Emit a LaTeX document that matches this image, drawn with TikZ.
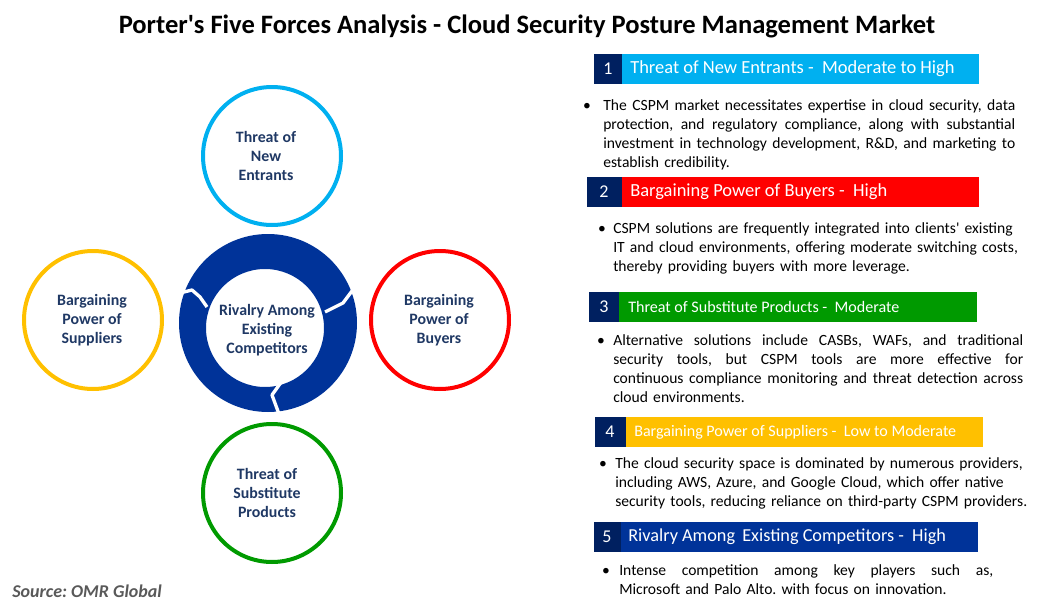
\documentclass[tikz,border=0pt]{standalone}
\usepackage{fontspec}
\setmainfont{Carlito}
\frenchspacing
\definecolor{cyanforce}{HTML}{00B0F0}
\definecolor{redforce}{HTML}{FF0000}
\definecolor{greenforce}{HTML}{009A00}
\definecolor{goldforce}{HTML}{FFC000}
\definecolor{blueforce}{HTML}{003399}
\definecolor{numnavy}{HTML}{002060}
\definecolor{labelnavy}{HTML}{1F3864}
\definecolor{sourcegray}{HTML}{595959}
\newcommand{\fullline}[2]{\makebox[#1][s]{\spaceskip=0pt\xspaceskip=0pt #2}}
\tikzset{
  force/.style={circle, draw=#1, line width=3pt, minimum size=103.5pt, inner sep=0pt},
  forcetext/.style={align=center, text=labelnavy, font=\fontsize{11.9}{14.25}\selectfont\bfseries},
  numtext/.style={text=white, inner sep=0pt, font=\fontsize{13.5}{15}\selectfont},
  bartext/.style={text=white, anchor=west, inner sep=0pt},
  bulletmark/.style={anchor=base, inner sep=0pt, font=\fontsize{11.7}{14.25}\selectfont},
  bullettext/.style={anchor=base west, inner sep=0pt, text width=340pt, align=left,
    font=\fontsize{11.7}{14.25}\selectfont},
}
\begin{document}
\begin{tikzpicture}[x=0.75pt, y=-0.75pt]
    \useasboundingbox (0,0) rectangle (1054,614);

    % Title
    \node[font=\fontsize{19.9}{23}\selectfont\bfseries, anchor=base] (title) at (527,33)
        {Porter\textquotesingle s Five Forces Analysis - Cloud Security Posture Management Market};

    % Outer forces
    \node[force=cyanforce] (entrants) at (272,156) {};
    \node[forcetext] (entrantslabel) at (266,156) {Threat of\\New\\Entrants};
    \node[force=goldforce] (suppliers) at (93,320) {};
    \node[forcetext] (supplierslabel) at (92,320) {Bargaining\\Power of\\Suppliers};
    \node[force=redforce] (buyers) at (440,320) {};
    \node[forcetext] (buyerslabel) at (439,320) {Bargaining\\Power of\\Buyers};
    \node[force=greenforce] (substitutes) at (272,493) {};
    \node[forcetext] (substituteslabel) at (267,493) {Threat of\\Substitute\\Products};

    % Central ring with three breaks
    \fill[blueforce, even odd rule] (268,323) circle (89) (265,328) circle (59);
    \draw[white, line width=2.5pt, line join=round] (180,293) -- (192,290) -- (200,297) -- (207,307);
    \draw[white, line width=2.5pt, line join=round] (352,291) -- (343,303) -- (325,312);
    \draw[white, line width=2.5pt, line join=round] (282,381) -- (272,395) -- (279,414);
    \node[forcetext] (rivalry) at (267,330) {Rivalry Among\\Existing\\Competitors};

    % 1 - new entrants
    \fill[numnavy] (594,54) rectangle (622,84);
    \fill[cyanforce] (622,54) rectangle (979,84);
    \node[numtext] (num1) at (608,69) {1};
    \node[bartext, font=\fontsize{13.85}{16}\selectfont] (head1) at (630,69) {Threat of New Entrants - \ Moderate to High};
    \node[bulletmark] (dot1) at (587,110) {•};
    \node[bullettext] (text1) at (603,110)
        {\fullline{309pt}{The CSPM market necessitates expertise in cloud security, data}\\
         \fullline{309pt}{protection, and regulatory compliance, along with substantial}\\
         \fullline{309pt}{investment in technology development, R\&D, and marketing to}\\
         establish credibility.};

    % 2 - buyers
    \fill[numnavy] (587,177) rectangle (622,207);
    \fill[redforce] (622,177) rectangle (979,207);
    \node[numtext] (num2) at (604,192) {2};
    \node[bartext, font=\fontsize{13.85}{16}\selectfont] (head2) at (630,192) {Bargaining Power of Buyers - \ High};
    \node[bulletmark] (dot2) at (602,233) {•};
    \node[bullettext] (text2) at (613,233)
        {CSPM solutions are frequently integrated into clients\textquotesingle\ existing\\
         IT and cloud environments, offering moderate switching costs,\\
         thereby providing buyers with more leverage.};

    % 3 - substitutes
    \fill[numnavy] (589,292) rectangle (619,322);
    \fill[greenforce] (619,292) rectangle (977,322);
    \node[numtext] (num3) at (604,307) {3};
    \node[bartext, font=\fontsize{12.05}{14}\selectfont] (head3) at (628,307) {Threat of Substitute Products - \ Moderate};
    \node[bulletmark] (dot3) at (601,345) {•};
    \node[bullettext] (text3) at (613,345)
        {\fullline{307.5pt}{Alternative solutions include CASBs, WAFs, and traditional}\\
         \fullline{307.5pt}{security tools, but CSPM tools are more effective for}\\
         \fullline{307.5pt}{continuous compliance monitoring and threat detection across}\\
         cloud environments.};

    % 4 - suppliers
    \fill[numnavy] (595,417) rectangle (626,447);
    \fill[goldforce] (626,417) rectangle (983,447);
    \node[numtext] (num4) at (610,432) {4};
    \node[bartext, font=\fontsize{12.05}{14}\selectfont] (head4) at (634,432) {Bargaining Power of Suppliers - \ Low to Moderate};
    \node[bulletmark] (dot4) at (603,468) {•};
    \node[bullettext] (text4) at (615,468)
        {The cloud security space is dominated by numerous providers,\\
         including AWS, Azure, and Google Cloud, which offer native\\
         security tools, reducing reliance on third-party CSPM providers.};

    % 5 - rivalry
    \fill[numnavy] (594,522) rectangle (621,552);
    \fill[blueforce] (621,522) rectangle (978,552);
    \node[numtext] (num5) at (607,537) {5};
    \node[bartext, font=\fontsize{13.7}{16}\selectfont] (head5) at (628,537) {Rivalry Among\ \,Existing Competitors - \ High};
    \node[bulletmark] (dot5) at (606,575) {•};
    \node[bullettext] (text5) at (619,575)
        {\fullline{280.5pt}{Intense competition among key players such as,}\\
         Microsoft and Palo Alto. with focus on innovation.};

    % Source
    \node[anchor=base west, inner sep=0pt, text=sourcegray, font=\fontsize{13.5}{16}\selectfont\bfseries\itshape] (source) at (12,597)
        {Source: OMR Global};
\end{tikzpicture}
\end{document}
